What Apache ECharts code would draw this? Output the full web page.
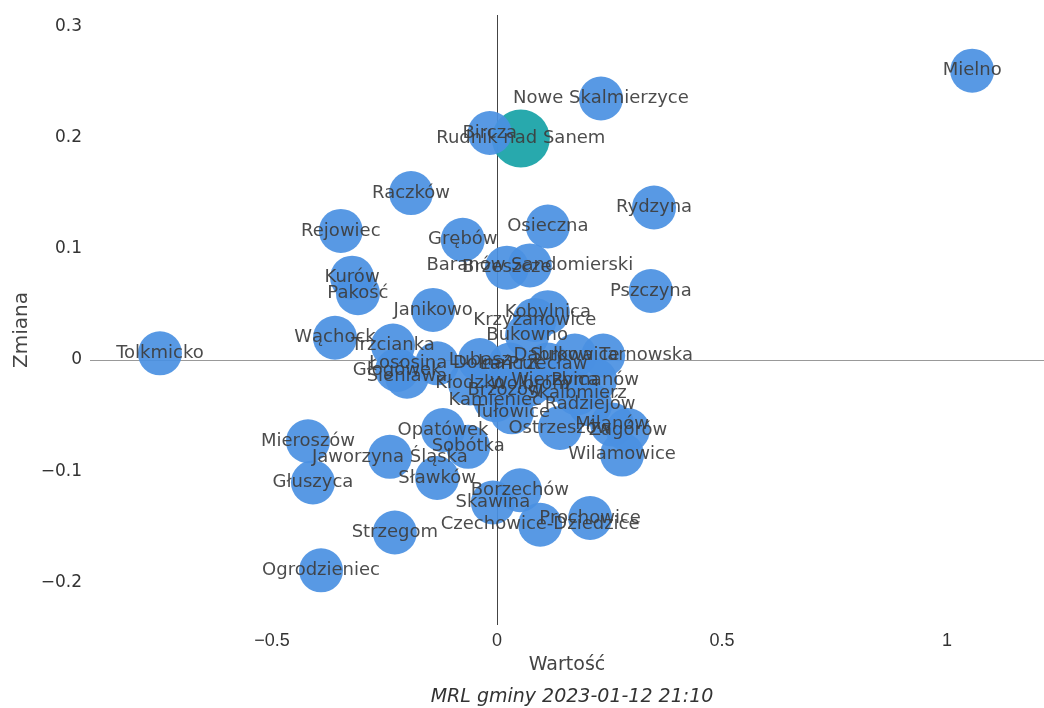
<!DOCTYPE html>
<html>
<head>
<meta charset="utf-8">
<script src="https://cdn.jsdelivr.net/npm/echarts@6/dist/echarts.min.js"></script>
<style>html,body{margin:0;padding:0;background:#fff}#c{width:1044px;height:708px}</style>
</head>
<body>
<div id="c"></div>
<script>
const names = ["Mielno","Nowe Skalmierzyce","Rudnik nad Sanem","Bircza","Raczków","Rydzyna","Rejowiec","Osieczna","Grębów","Baranów Sandomierski","Brzeszcze","Kurów","Pakość","Janikowo","Pszczyna","Wąchock","Trzcianka","Tolkmicko","Krzyżanowice","Kobylnica","Bukowno","Dąbrowa Tarnowska","Głogówek","Sieniawa","Łososina Dolna","Lubasz","Kłodzko","Łańcut","Przecław","Sułkowice","Wierzbica","Skalbmierz","Rymanów","Wolbrom","Brzozów","Tułowice","Kamieniec","Ostrzeszów","Milanów","Radziejów","Zagórów","Wilamowice","Opatówek","Sobótka","Jaworzyna Śląska","Sławków","Mieroszów","Głuszyca","Strzegom","Ogrodzieniec","Skawina","Borzechów","Czechowice-Dziedzice","Prochowice"];
const wartosc = [1.056,0.231,0.053,-0.016,-0.191,0.349,-0.347,0.113,-0.076,0.073,0.022,-0.322,-0.309,-0.142,0.342,-0.360,-0.231,-0.749,0.084,0.113,0.067,0.236,-0.222,-0.200,-0.133,-0.038,-0.060,0.029,0.113,0.173,0.129,0.178,0.218,0.073,0.018,0.033,-0.004,0.140,0.256,0.207,0.291,0.278,-0.120,-0.064,-0.238,-0.133,-0.420,-0.409,-0.227,-0.391,-0.009,0.051,0.096,0.207];
const zmiana = [0.260,0.235,0.199,0.204,0.150,0.137,0.116,0.120,0.108,0.085,0.083,0.074,0.060,0.045,0.062,0.020,0.013,0.006,0.036,0.043,0.022,0.004,-0.009,-0.015,-0.003,0.000,-0.021,-0.004,-0.004,0.004,-0.018,-0.030,-0.018,-0.022,-0.027,-0.047,-0.036,-0.061,-0.058,-0.040,-0.063,-0.085,-0.063,-0.078,-0.087,-0.106,-0.073,-0.110,-0.155,-0.189,-0.128,-0.117,-0.148,-0.142];
const highlighted = ["Rudnik nad Sanem"];
const xTicks = [-0.5, 0, 0.5, 1];
const yTicks = [-0.2, -0.1, 0, 0.1, 0.2, 0.3];
const subtitle = "MRL gminy 2023-01-12 21:10";

const fmt = v => {
  const r = Math.round(v * 1000) / 1000;
  return (r < 0 ? "\u2212" : "") + String(Math.abs(r));
};
const near = (v, arr) => arr.some(t => Math.abs(t - v) < 1e-6);

const data = names.map((n, i) => {
  const hi = highlighted.includes(n);
  return {
    name: n,
    value: [wartosc[i], zmiana[i]],
    symbolSize: hi ? 58 : 44,
    itemStyle: { color: hi ? "#16a2a6" : "#4a90e2" },
    z: hi ? 3 : 2
  };
});

const chart = echarts.init(document.getElementById("c"), null, { renderer: "canvas" });
chart.setOption({
  animation: false,
  backgroundColor: "#ffffff",
  grid: { left: 90, right: 0, top: 15, bottom: 83 },
  xAxis: {
    type: "value",
    min: -0.9044, max: 1.2156,
    splitLine: { show: false },
    axisLine: { show: false },
    axisTick: { show: false },
    axisLabel: {
      margin: 7,
      fontFamily: "Liberation Sans Narrow, Liberation Sans, sans-serif",
      fontSize: 18, color: "#333",
      showMinLabel: false, showMaxLabel: false,
      formatter: v => near(v, xTicks) ? fmt(v) : ""
    },
    name: "Wartość",
    nameLocation: "middle",
    nameGap: 31,
    nameTextStyle: { fontFamily: "DejaVu Sans", fontSize: 19, color: "#444" }
  },
  yAxis: {
    type: "value",
    min: -0.2381, max: 0.3100,
    splitLine: { show: false },
    axisLine: { show: false },
    axisTick: { show: false },
    axisLabel: {
      margin: 8,
      fontFamily: "DejaVu Sans", fontSize: 17, color: "#333",
      showMinLabel: false, showMaxLabel: false,
      formatter: v => near(v, yTicks) ? fmt(v) : ""
    }
  },
  graphic: [
    { type: "text", x: 22, y: 330, rotation: Math.PI / 2,
      style: { text: "Zmiana", fontFamily: "DejaVu Sans", fontSize: 20, fill: "#444", align: "center", verticalAlign: "middle" } },
    { type: "text", x: 572, y: 697,
      style: { text: subtitle, fontFamily: "DejaVu Sans", fontStyle: "italic", fontSize: 19, fill: "#333", align: "center", verticalAlign: "middle" } }
  ],
  series: [{
    type: "scatter",
    data: data,
    itemStyle: { opacity: 0.92 },
    label: {
      show: true,
      position: "inside",
      formatter: p => p.name,
      fontFamily: "DejaVu Sans",
      fontSize: 18,
      color: "#3d3d3d"
    },
    labelLayout: { hideOverlap: false },
    markLine: {
      silent: true,
      symbol: "none",
      label: { show: false },
      z: 1,
      data: [
        { xAxis: 0, lineStyle: { color: "#444", width: 1, type: "solid" } },
        { yAxis: 0, lineStyle: { color: "#999", width: 1, type: "solid" } }
      ]
    }
  }]
});
</script>
</body>
</html>
